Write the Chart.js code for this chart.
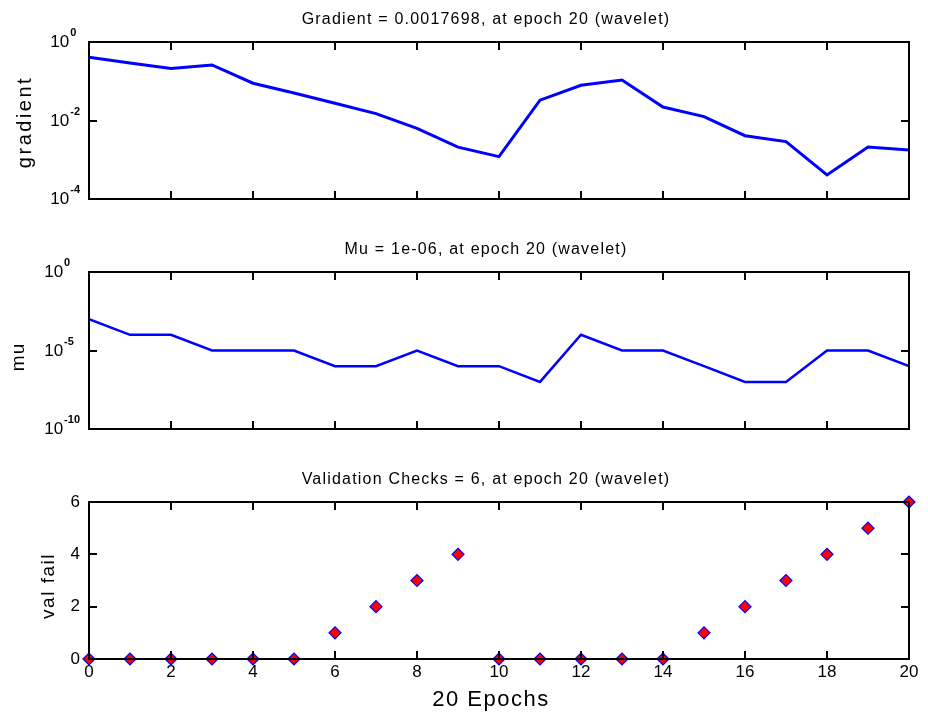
<!DOCTYPE html>
<html><head><meta charset="utf-8">
<script src="https://cdn.jsdelivr.net/npm/chart.js@4.4.1/dist/chart.umd.min.js"></script>
<style>
html,body{margin:0;padding:0;background:#fff;}
#wrap{position:relative;width:928px;height:716px;overflow:hidden;}
canvas{position:absolute;left:0;}
</style></head><body>
<div id="wrap">
<canvas id="c1" width="928" height="230" style="top:0px"></canvas>
<canvas id="c2" width="928" height="230" style="top:230px"></canvas>
<canvas id="c3" width="928" height="256" style="top:460px"></canvas>
</div>
<script>
// ---- data ----
const epochs = [0,1,2,3,4,5,6,7,8,9,10,11,12,13,14,15,16,17,18,19,20];
const gradientValues = [0.41, 0.29, 0.21, 0.26, 0.089, 0.050, 0.0275, 0.015, 0.0063, 0.0021, 0.0012,
                        0.033, 0.079, 0.107, 0.022, 0.0126, 0.0041, 0.0029, 0.00041, 0.0021, 0.0017698];
const muValues = [1e-3, 1e-4, 1e-4, 1e-5, 1e-5, 1e-5, 1e-6, 1e-6, 1e-5, 1e-6, 1e-6,
                  1e-7, 1e-4, 1e-5, 1e-5, 1e-6, 1e-7, 1e-7, 1e-5, 1e-5, 1e-6];
const valFailValues = [0,0,0,0,0,0,1,2,3,4,0,0,0,0,0,1,2,3,4,5,6];
const xTickValues = [0,2,4,6,8,10,12,14,16,18,20];
const gradientTickExps = [-4,-2,0];
const muTickExps = [-10,-5,0];
const valFailTicks = [0,2,4,6];
const panelTitles = ['Gradient = 0.0017698, at epoch 20 (wavelet)',
                     'Mu = 1e-06, at epoch 20 (wavelet)',
                     'Validation Checks = 6, at epoch 20 (wavelet)'];
const yAxisTitles = ['gradient', 'mu', 'val fail'];
const xAxisTitle = '20 Epochs';

const FONT = '"Liberation Sans", Arial, Helvetica, sans-serif';

const matlabAxes = {
  id: 'matlabAxes',
  afterDatasetsDraw(chart, args, o) {
    const {ctx, chartArea: a, scales} = chart;
    const xs = scales.x, ys = scales.y;
    const L = Math.round(a.left), R = Math.round(a.right), T = Math.round(a.top), B = Math.round(a.bottom);
    ctx.save();
    ctx.strokeStyle = '#000';
    ctx.lineWidth = 2;
    ctx.strokeRect(L, T, R - L, B - T);
    const tl = 8;
    ctx.beginPath();
    o.xTicks.forEach(v => {
      const px = Math.round(xs.getPixelForValue(v));
      ctx.moveTo(px, B); ctx.lineTo(px, B - tl);
      ctx.moveTo(px, T); ctx.lineTo(px, T + tl);
    });
    o.yTicks.forEach(t => {
      const py = Math.round(ys.getPixelForValue(t.value));
      ctx.moveTo(L, py); ctx.lineTo(L + tl, py);
      ctx.moveTo(R, py); ctx.lineTo(R - tl, py);
    });
    ctx.stroke();
    ctx.restore();
  },
  afterDraw(chart, args, o) {
    const {ctx, chartArea: a, scales} = chart;
    const xs = scales.x, ys = scales.y;
    const L = Math.round(a.left), B = Math.round(a.bottom);
    ctx.save();
    ctx.fillStyle = '#000';
    // title
    ctx.font = '16px ' + FONT;
    ctx.letterSpacing = '1.2px';
    ctx.textAlign = 'center';
    ctx.textBaseline = 'middle';
    ctx.fillText(o.title, o.titleX, o.titleY);
    // y tick labels
    ctx.letterSpacing = '0px';
    const labelRight = L - 9;
    if (o.logLabels) {
      ctx.font = 'bold 11px ' + FONT;
      let maxW = 0;
      o.yTicks.forEach(t => { maxW = Math.max(maxW, ctx.measureText(String(t.exp)).width); });
      const baseRight = labelRight - maxW - 1;
      o.yTicks.forEach(t => {
        const py = ys.getPixelForValue(t.value);
        ctx.font = '17px ' + FONT;
        ctx.textAlign = 'right';
        ctx.textBaseline = 'alphabetic';
        ctx.fillText('10', baseRight, py + 5);
        ctx.font = 'bold 11px ' + FONT;
        ctx.textAlign = 'left';
        ctx.fillText(String(t.exp), baseRight + 1, py - 6);
      });
    } else {
      ctx.font = '17px ' + FONT;
      ctx.textAlign = 'right';
      ctx.textBaseline = 'middle';
      o.yTicks.forEach(t => {
        ctx.fillText(String(t.value), labelRight, ys.getPixelForValue(t.value));
      });
    }
    // x tick labels
    if (o.xLabels) {
      ctx.font = '17px ' + FONT;
      ctx.textAlign = 'center';
      ctx.textBaseline = 'middle';
      o.xTicks.forEach(v => ctx.fillText(String(v), xs.getPixelForValue(v), B + 13));
    }
    // y axis title
    ctx.save();
    ctx.font = o.yTitleSize + 'px ' + FONT;
    ctx.letterSpacing = o.yTitleSpacing + 'px';
    ctx.textAlign = 'center';
    ctx.textBaseline = 'middle';
    ctx.translate(o.yTitleX, o.yTitleY);
    ctx.rotate(-Math.PI / 2);
    ctx.fillText(o.yTitle, 0, 0);
    ctx.restore();
    // x axis title
    if (o.xTitle) {
      ctx.font = '22px ' + FONT;
      ctx.letterSpacing = '1.5px';
      ctx.textAlign = 'center';
      ctx.textBaseline = 'middle';
      ctx.fillText(o.xTitle, o.xTitleX, B + 41);
    }
    ctx.restore();
  }
};

function baseOptions(bottomPad, yScale, axesOpts) {
  return {
    responsive: false,
    animation: false,
    devicePixelRatio: 1,
    events: [],
    layout: { padding: { left: 89, right: 19, top: 42, bottom: bottomPad } },
    plugins: {
      legend: { display: false },
      tooltip: { enabled: false },
      title: { display: false },
      matlabAxes: axesOpts
    },
    scales: {
      x: { type: 'linear', min: 0, max: 20, display: false },
      y: Object.assign({ display: false }, yScale)
    }
  };
}

const toPts = vals => epochs.map((e, i) => ({ x: e, y: vals[i] }));

new Chart(document.getElementById('c1'), {
  type: 'line',
  data: { datasets: [{ data: toPts(gradientValues), borderColor: '#0000ff', borderWidth: 3,
                       pointRadius: 0, tension: 0, fill: false }] },
  options: baseOptions(31, { type: 'logarithmic', min: 1e-4, max: 1 }, {
    title: panelTitles[0], titleX: 486, titleY: 20,
    xTicks: xTickValues, xLabels: false,
    yTicks: gradientTickExps.map(e => ({ value: Math.pow(10, e), exp: e })), logLabels: true,
    yTitle: yAxisTitles[0], yTitleX: 25, yTitleY: 122, yTitleSize: 20, yTitleSpacing: 2.5
  }),
  plugins: [matlabAxes]
});

new Chart(document.getElementById('c2'), {
  type: 'line',
  data: { datasets: [{ data: toPts(muValues), borderColor: '#0000ff', borderWidth: 2.5,
                       pointRadius: 0, tension: 0, fill: false }] },
  options: baseOptions(31, { type: 'logarithmic', min: 1e-10, max: 1 }, {
    title: panelTitles[1], titleX: 486, titleY: 20,
    xTicks: xTickValues, xLabels: false,
    yTicks: muTickExps.map(e => ({ value: Math.pow(10, e), exp: e })), logLabels: true,
    yTitle: yAxisTitles[1], yTitleX: 19, yTitleY: 127, yTitleSize: 19, yTitleSpacing: 1
  }),
  plugins: [matlabAxes]
});

new Chart(document.getElementById('c3'), {
  type: 'line',
  data: { datasets: [{ data: toPts(valFailValues), showLine: false, clip: false,
                       pointStyle: 'rectRot', pointRadius: 6, pointBackgroundColor: '#ff0000',
                       pointBorderColor: '#0000ff', pointBorderWidth: 1.2 }] },
  options: baseOptions(57, { type: 'linear', min: 0, max: 6 }, {
    title: panelTitles[2], titleX: 486, titleY: 20,
    xTicks: xTickValues, xLabels: true,
    yTicks: valFailTicks.map(v => ({ value: v })), logLabels: false,
    yTitle: yAxisTitles[2], yTitleX: 49, yTitleY: 126, yTitleSize: 19, yTitleSpacing: 1.5,
    xTitle: xAxisTitle, xTitleX: 491
  }),
  plugins: [matlabAxes]
});
</script>
</body></html>
